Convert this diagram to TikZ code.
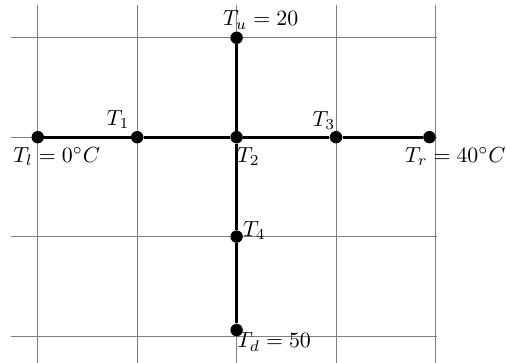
\documentclass[tikz,border=0pt]{standalone}
\usepackage{tikz}

\tikzset{
  dot/.style={circle, fill=black, inner sep=0pt, minimum size=0.2cm},
  lbl/.style={anchor=base west, inner sep=0pt},
  rod/.style={line width=1.3pt}
}

\begin{document}
\begin{tikzpicture}[x=1.6cm, y=1.6cm]

  \useasboundingbox (-0.38,-0.27) rectangle (4.71,3.38);

  %=====================================================================
  % background grid
  %=====================================================================
  \draw[gray, step=1.6cm] (-0.27,-0.3) grid (4.02,3.33);

  %=====================================================================
  % grid points
  %=====================================================================
  \node[dot] (Tl) at (0,2) {};
  \node[dot] (T1) at (1,2) {};
  \node[dot] (T2) at (2,2) {};
  \node[dot] (T3) at (3,2) {};
  \node[dot] (Tr) at (3.94,2) {};
  \node[dot] (Tu) at (2,3) {};
  \node[dot] (T4) at (2,1) {};
  \node[dot] (Td) at (2,0.06) {};

  % rods
  \draw[rod] (Tl) -- (T1) -- (T2) -- (T3) -- (Tr);
  \draw[rod] (Tu) -- (T2) -- (T4) -- (Td);

  %=====================================================================
  % labels
  %=====================================================================
  \node[lbl] (lTl) at ([shift={(-0.25,-0.25)}]Tl.center) {$T_l = 0^\circ C$};
  \node[lbl] (lT1) at ([shift={(-0.31,0.12)}]T1.center) {$T_1$};
  \node[lbl] (lT2) at ([shift={(0,-0.25)}]T2.center) {$T_2$};
  \node[lbl] (lT3) at ([shift={(-0.24,0.11)}]T3.center) {$T_3$};
  \node[lbl] (lTr) at ([shift={(-0.25,-0.25)}]Tr.center) {$T_r = 40^\circ C$};
  \node[lbl] (lTu) at ([shift={(-0.14,0.12)}]Tu.center) {$T_u = 20$};
  \node[lbl] (lT4) at ([shift={(0.06,0)}]T4.center) {$T_4$};
  \node[lbl] (lTd) at ([shift={(0,-0.18)}]Td.center) {$T_d = 50$};

\end{tikzpicture}
\end{document}
